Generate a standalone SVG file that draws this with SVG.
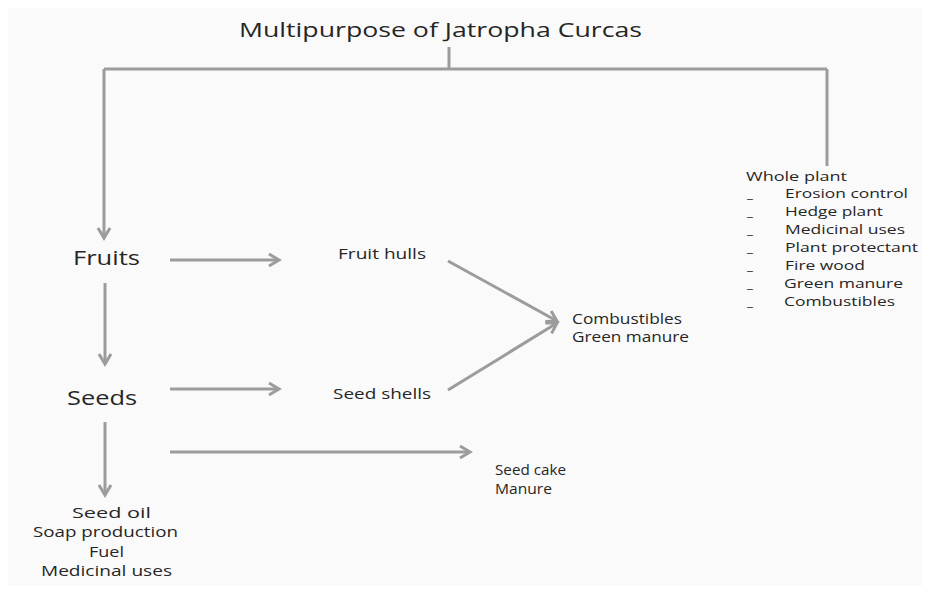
<svg xmlns="http://www.w3.org/2000/svg" width="932" height="603" viewBox="0 0 932 603">
<style>
text{font-family:"Open Sans","Liberation Sans",sans-serif;fill:#262626}
.big{font-size:20px}
.mid{font-size:14px}
.sm{font-size:13.5px}
.ln{stroke:#9c9c9c;stroke-width:3;fill:none}
</style>
<defs>
<marker id="ah" markerUnits="userSpaceOnUse" markerWidth="16" markerHeight="16" refX="12" refY="8" orient="auto">
<path d="M2,2 L12,8 L2,14" fill="none" stroke="#9c9c9c" stroke-width="3" stroke-linejoin="miter"/>
</marker>
</defs>
<rect x="0" y="0" width="932" height="603" fill="#ffffff"/>
<rect x="8" y="8" width="914" height="578" fill="#fafafa"/>
<g id="connectors">
<path class="ln" d="M449,47 L449,69"/>
<path class="ln" d="M104,69 L827,69"/>
<path class="ln" d="M104,69 L104,238" marker-end="url(#ah)"/>
<path class="ln" d="M827,69 L827,166"/>
<path class="ln" d="M170,260 L279,260" marker-end="url(#ah)"/>
<path class="ln" d="M170,389 L279,389" marker-end="url(#ah)"/>
<path class="ln" d="M105,283 L105,364" marker-end="url(#ah)"/>
<path class="ln" d="M105,422 L105,495" marker-end="url(#ah)"/>
<path class="ln" d="M170,452 L470,452" marker-end="url(#ah)"/>
<path class="ln" d="M448,261 L557,321" marker-end="url(#ah)"/>
<path class="ln" d="M448,390 L557,323" marker-end="url(#ah)"/>
</g>
<g id="title"><text class="big" x="239" y="37" textLength="403" lengthAdjust="spacingAndGlyphs">Multipurpose of Jatropha Curcas</text></g>
<g id="fruits"><text class="big" x="73" y="265" textLength="67" lengthAdjust="spacingAndGlyphs">Fruits</text></g>
<g id="seeds"><text class="big" x="67" y="405" textLength="70" lengthAdjust="spacingAndGlyphs">Seeds</text></g>
<g id="fruit-hulls"><text class="mid" x="338" y="259" textLength="88" lengthAdjust="spacingAndGlyphs">Fruit hulls</text></g>
<g id="seed-shells"><text class="mid" x="333" y="399" textLength="98" lengthAdjust="spacingAndGlyphs">Seed shells</text></g>
<g id="combustibles">
<text class="mid" x="572" y="324" textLength="110" lengthAdjust="spacingAndGlyphs">Combustibles</text>
<text class="mid" x="572" y="342" textLength="117" lengthAdjust="spacingAndGlyphs">Green manure</text>
</g>
<g id="seed-cake">
<text class="mid" x="495" y="475" textLength="71" lengthAdjust="spacingAndGlyphs">Seed cake</text>
<text class="mid" x="495" y="494" textLength="57" lengthAdjust="spacingAndGlyphs">Manure</text>
</g>
<g id="seed-oil">
<text class="mid" x="72" y="518" textLength="79" lengthAdjust="spacingAndGlyphs">Seed oil</text>
<text class="mid" x="33" y="537" textLength="145" lengthAdjust="spacingAndGlyphs">Soap production</text>
<text class="mid" x="89" y="557" textLength="35" lengthAdjust="spacingAndGlyphs">Fuel</text>
<text class="mid" x="41" y="576" textLength="131" lengthAdjust="spacingAndGlyphs">Medicinal uses</text>
</g>
<g id="whole-plant">
<text class="sm" x="746" y="181" textLength="101" lengthAdjust="spacingAndGlyphs">Whole plant</text>
<text class="sm" x="747" y="198">_</text>
<text class="sm" x="785" y="198" textLength="123" lengthAdjust="spacingAndGlyphs">Erosion control</text>
<text class="sm" x="747" y="216">_</text>
<text class="sm" x="785" y="216" textLength="98" lengthAdjust="spacingAndGlyphs">Hedge plant</text>
<text class="sm" x="747" y="234">_</text>
<text class="sm" x="785" y="234" textLength="120" lengthAdjust="spacingAndGlyphs">Medicinal uses</text>
<text class="sm" x="747" y="252">_</text>
<text class="sm" x="785" y="252" textLength="133" lengthAdjust="spacingAndGlyphs">Plant protectant</text>
<text class="sm" x="747" y="270">_</text>
<text class="sm" x="785" y="270" textLength="80" lengthAdjust="spacingAndGlyphs">Fire wood</text>
<text class="sm" x="747" y="288">_</text>
<text class="sm" x="784" y="288" textLength="119" lengthAdjust="spacingAndGlyphs">Green manure</text>
<text class="sm" x="747" y="306">_</text>
<text class="sm" x="784" y="306" textLength="111" lengthAdjust="spacingAndGlyphs">Combustibles</text>
</g>
</svg>
